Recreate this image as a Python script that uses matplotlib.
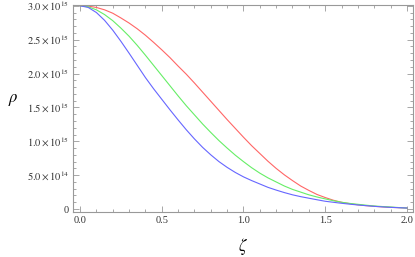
import matplotlib
matplotlib.use('Agg')
import matplotlib.pyplot as plt
from matplotlib.ticker import MultipleLocator, FixedLocator

# === DATA ===
zeta = [0.00, 0.05, 0.10, 0.15, 0.20, 0.25, 0.30, 0.35, 0.40, 0.45, 0.50,
        0.55, 0.60, 0.65, 0.70, 0.75, 0.80, 0.85, 0.90, 0.95, 1.00,
        1.05, 1.10, 1.15, 1.20, 1.25, 1.30, 1.35, 1.40, 1.45, 1.50,
        1.55, 1.60, 1.65, 1.70, 1.75, 1.80, 1.85, 1.90, 1.95, 2.00]
# density in units of 1e15
rho_red = [3.00, 2.995, 2.975, 2.94, 2.89, 2.82, 2.745, 2.66, 2.565, 2.46, 2.35,
           2.235, 2.11, 1.99, 1.86, 1.725, 1.59, 1.455, 1.32, 1.19, 1.06,
           0.935, 0.82, 0.705, 0.60, 0.505, 0.42, 0.34, 0.275, 0.215, 0.17,
           0.13, 0.10, 0.08, 0.062, 0.05, 0.04, 0.032, 0.025, 0.02, 0.015]
rho_green = [3.00, 2.985, 2.94, 2.87, 2.78, 2.67, 2.55, 2.415, 2.27, 2.12, 1.97,
             1.82, 1.67, 1.525, 1.39, 1.255, 1.13, 1.01, 0.90, 0.795, 0.70,
             0.61, 0.53, 0.46, 0.40, 0.34, 0.29, 0.25, 0.21, 0.178, 0.15,
             0.123, 0.10, 0.083, 0.07, 0.057, 0.045, 0.037, 0.03, 0.022, 0.015]
rho_blue = [3.00, 2.975, 2.90, 2.785, 2.64, 2.475, 2.30, 2.12, 1.94, 1.775, 1.62,
            1.465, 1.315, 1.17, 1.035, 0.91, 0.80, 0.70, 0.615, 0.54, 0.475,
            0.42, 0.37, 0.32, 0.28, 0.243, 0.21, 0.183, 0.16, 0.137, 0.115,
            0.10, 0.085, 0.072, 0.06, 0.05, 0.04, 0.032, 0.025, 0.02, 0.015]

y_ticks = [0.0, 0.5, 1.0, 1.5, 2.0, 2.5, 3.0]
y_labels = ['0', r'$5.0\times10^{14}$', r'$1.0\times10^{15}$', r'$1.5\times10^{15}$',
            r'$2.0\times10^{15}$', r'$2.5\times10^{15}$', r'$3.0\times10^{15}$']
x_ticks = [0.0, 0.5, 1.0, 1.5, 2.0]
x_labels = ['0.0', '0.5', '1.0', '1.5', '2.0']

# === STYLE ===
plt.rcParams['font.family'] = ['Liberation Serif', 'DejaVu Serif']
plt.rcParams['mathtext.fontset'] = 'stix'

fig = plt.figure(figsize=(4.15, 2.57), dpi=100)
ax = fig.add_axes([0.176, 0.175, 0.819, 0.806])

ax.plot(zeta, rho_red, color='#ff6666', lw=0.8)
ax.plot(zeta, rho_green, color='#66ee66', lw=0.8)
ax.plot(zeta, rho_blue, color='#6666ff', lw=0.8)

ax.set_xlim(-0.043, 2.037)
ax.set_ylim(-0.044, 3.013)

frame_col = '#999999'
for s in ax.spines.values():
    s.set_color(frame_col)
    s.set_linewidth(0.8)

ax.xaxis.set_major_locator(FixedLocator(x_ticks))
ax.set_xticklabels(x_labels)
ax.xaxis.set_minor_locator(MultipleLocator(0.1))
ax.yaxis.set_major_locator(FixedLocator(y_ticks))
ax.set_yticklabels(y_labels)
ax.yaxis.set_minor_locator(MultipleLocator(0.1))

ax.tick_params(which='both', direction='in', top=True, right=True,
               color=frame_col, width=0.6, labelsize=7.5, labelcolor='#333333')
ax.tick_params(which='major', length=4, pad=3)
ax.tick_params(which='minor', length=2)

ax.set_xlabel(r'$\zeta$', fontsize=12, labelpad=8)
ax.set_ylabel(r'$\rho$', fontsize=12, rotation=0)
ax.yaxis.set_label_coords(-0.175, 0.5)

fig.savefig('out.png', dpi=100)
